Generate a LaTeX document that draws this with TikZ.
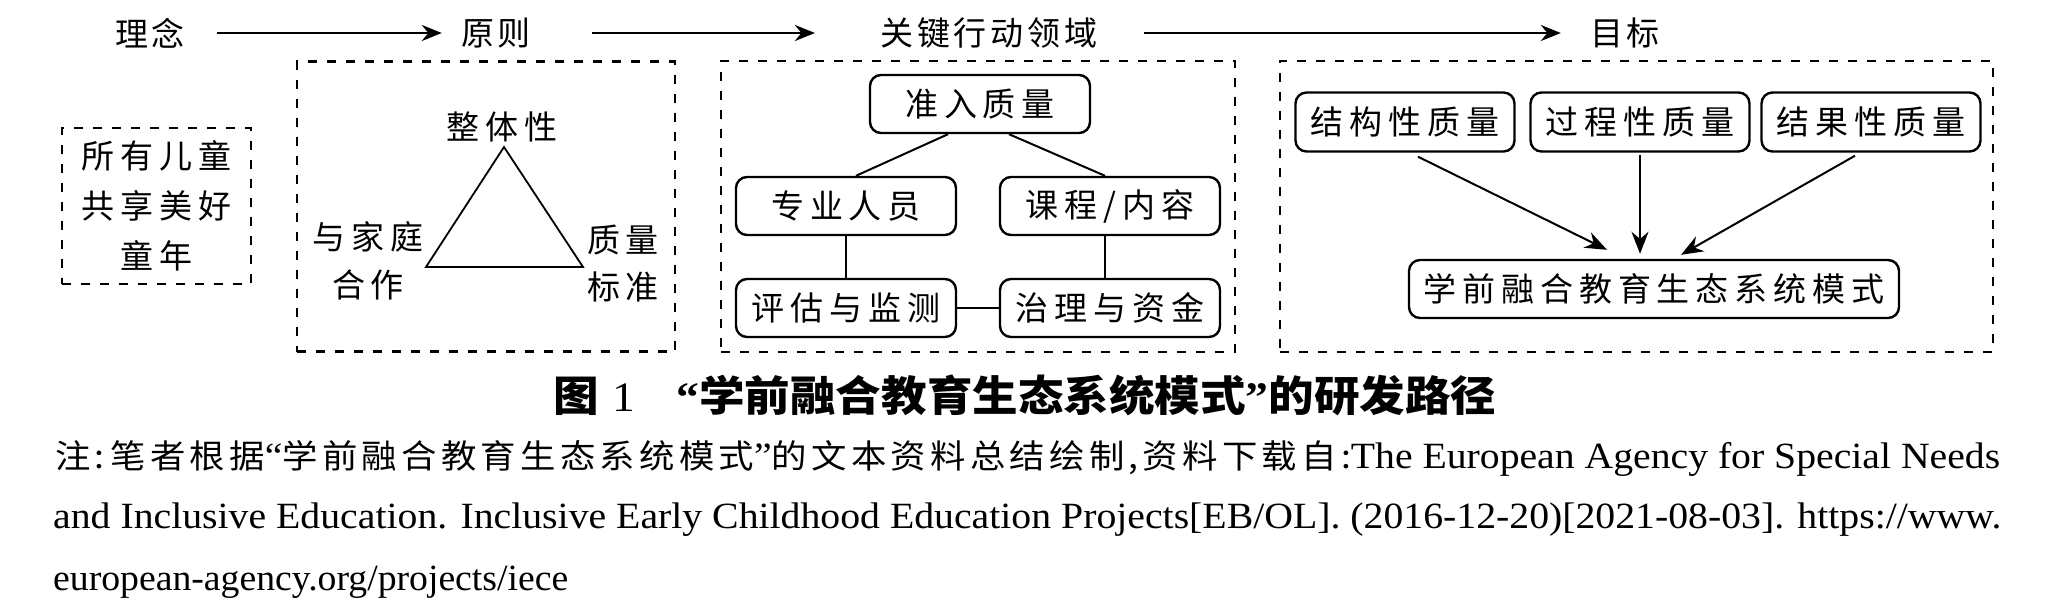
\documentclass[tikz,border=0pt]{standalone}
\usepackage{fontspec}
\usepackage{graphicx}
\setmainfont{Liberation Serif}
\newfontfamily\cjk{Noto Sans CJK SC}
\newfontfamily\cjkls[LetterSpace=18]{Noto Sans CJK SC}
\newfontfamily\cjkt[LetterSpace=12]{Noto Sans CJK SC}
\newfontfamily\cjkn[LetterSpace=12]{Noto Sans CJK SC}
\usetikzlibrary{arrows.meta}
\begin{document}
\begin{tikzpicture}[x=1pt,y=-1pt,
  title/.style={inner sep=0pt,font=\cjkt\fontsize{33}{36}\selectfont},
  lbl/.style={inner sep=0pt,align=center,font=\cjkls\fontsize{33}{48}\selectfont},
  frame/.style={draw,dash pattern=on 9pt off 10pt,line width=2.2pt,inner sep=0pt},
  rbox/.style={draw,rounded corners=11pt,line width=2.4pt,minimum width=220pt,minimum height=58pt,inner sep=0pt,font=\cjkls\fontsize{33}{36}\selectfont},
  link/.style={line width=2pt},
  flow/.style={line width=2.6pt,-{Stealth[length=20pt,width=16pt]}},
  goalarrow/.style={line width=2pt,-{Stealth[length=22pt,width=17pt]}},
  note/.style={anchor=west,inner sep=0pt},
]
\useasboundingbox (0,0) rectangle (2071,613);

% title row
\node[title] (t1) at (150,33) {理念};
\node[title] (t2) at (496,33) {原则};
\node[title] (t3) at (989,33) {关键行动领域};
\node[title] (t4) at (1625,33) {目标};
\draw[flow, shorten <=32pt, shorten >=19pt] (t1.east) -- (t2.west);
\draw[flow, shorten <=61pt, shorten >=65pt] (t2.east) -- (t3.west);
\draw[flow, shorten <=46pt, shorten >=29pt] (t3.east) -- (t4.west);

% idea box
\node[frame,lbl,minimum width=189pt,minimum height=156pt,font=\cjkls\fontsize{33}{50}\selectfont] (idea) at (156.5,206) {所有儿童\\共享美好\\童年};

% principles
\node[frame,minimum width=378pt,minimum height=290pt] (fb) at (486,206.5) {};
\coordinate (ta) at (504,147);
\coordinate (tb) at (426,267);
\coordinate (tc) at (583,267);
\draw[line width=1.8pt] (ta) -- (tb) -- (tc) -- cycle;
\node[lbl] (p1) at (502,127) {整体性};
\node[lbl] (p2) at (368,261) {与家庭\\合作};
\node[lbl,font=\cjkls\fontsize{33}{47}\selectfont] (p3) at (623,263.5) {质量\\标准};

% key action areas
\node[frame,minimum width=514pt,minimum height=291pt] (fc) at (978,206.5) {};
\node[rbox] (q0) at (980,104) {准入质量};
\node[rbox] (q1) at (846,206) {专业人员};
\node[rbox] (q2) at (1110,206) {课程/内容};
\node[rbox] (q3) at (846,308) {评估与监测};
\node[rbox] (q4) at (1110,308) {治理与资金};
\draw[link] ([xshift=-32pt]q0.south) -- ([xshift=10pt]q1.north);
\draw[link] ([xshift=29pt]q0.south) -- ([xshift=-5pt]q2.north);
\draw[link] (q1.south) -- (q3.north);
\draw[link] ([xshift=-5pt]q2.south) -- ([xshift=-5pt]q4.north);
\draw[link] (q3.east) -- (q4.west);

% goals
\node[frame,minimum width=713pt,minimum height=291pt] (fd) at (1636.5,206.5) {};
\node[rbox,minimum width=219pt,minimum height=59pt] (g1) at (1405,122) {结构性质量};
\node[rbox,minimum width=219pt,minimum height=59pt] (g2) at (1640,122) {过程性质量};
\node[rbox,minimum width=219pt,minimum height=59pt] (g3) at (1871,122) {结果性质量};
\node[rbox,minimum width=490pt] (goal) at (1654,289) {学前融合教育生态系统模式};
\draw[goalarrow] ([xshift=13pt,yshift=-4pt]g1.south) -- ([xshift=-47pt,yshift=9pt]goal.north);
\draw[goalarrow] ([yshift=-2pt]g2.south) -- ([xshift=-14pt,yshift=5pt]goal.north);
\draw[goalarrow] ([xshift=-16pt,yshift=-3pt]g3.south) -- ([xshift=27pt,yshift=4pt]goal.north);

% caption
\node[inner sep=0pt] (cap) at (1025,395) {\resizebox{943pt}{\height}{\cjk\bfseries\fontsize{42}{44}\selectfont 图\hspace{0.3em}{\rmfamily\mdseries 1}\hspace{0.9em}{\rmfamily “}学前融合教育生态系统模式{\rmfamily ”}的研发路径}};

% notes
\node[note] (n1) at (55,458) {\resizebox{1945pt}{\height}{\fontsize{37}{40}\selectfont{\cjkn\fontsize{33}{40}\selectfont 注:\,笔者根据{\rmfamily\fontsize{37}{40}\selectfont “}学前融合教育生态系统模式{\rmfamily\fontsize{37}{40}\selectfont ”}的文本资料总结绘制,资料下载自:}The European Agency for Special Needs}};
\node[note] (n2) at (53,520) {\resizebox{1948pt}{\height}{\fontsize{37}{40}\selectfont and Inclusive Education. Inclusive Early Childhood Education Projects[EB/OL]. (2016-12-20)[2021-08-03]. https://www.}};
\node[note] (n3) at (53,582) {\resizebox{515pt}{\height}{\fontsize{37}{40}\selectfont european-agency.org/projects/iece}};
\end{tikzpicture}
\end{document}
